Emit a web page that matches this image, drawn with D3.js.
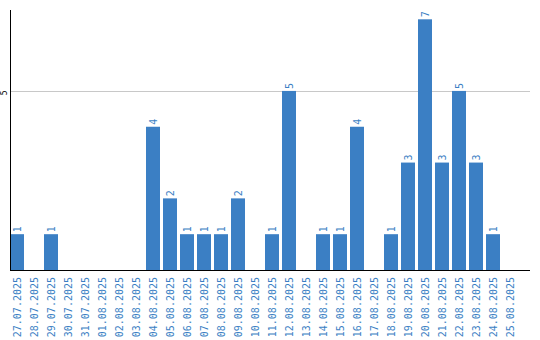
<!DOCTYPE html>
<html lang="en">
<head>
  <meta charset="UTF-8">
  <title>Daily counts</title>
  <script src="https://d3js.org/d3.v7.min.js"></script>
  <style>
    body { margin: 0; background: #fff; }
    text { font-family: "DejaVu Sans Mono", monospace; }
  </style>
</head>
<body>
  <svg id="chart" width="540" height="340"></svg>
  <script>
    const dates = ['27.07.2025', '28.07.2025', '29.07.2025', '30.07.2025', '31.07.2025',
      '01.08.2025', '02.08.2025', '03.08.2025', '04.08.2025', '05.08.2025',
      '06.08.2025', '07.08.2025', '08.08.2025', '09.08.2025', '10.08.2025',
      '11.08.2025', '12.08.2025', '13.08.2025', '14.08.2025', '15.08.2025',
      '16.08.2025', '17.08.2025', '18.08.2025', '19.08.2025', '20.08.2025',
      '21.08.2025', '22.08.2025', '23.08.2025', '24.08.2025', '25.08.2025'];
    const counts = [1, 0, 1, 0, 0, 0, 0, 0, 4, 2,
      1, 1, 1, 2, 0, 1, 5, 0, 1, 1,
      4, 0, 1, 3, 7, 3, 5, 3, 1, 0];
    const yTicks = [5];

    const data = dates.map((date, i) => ({ date, value: counts[i] }));

    const blue = '#3b7fc4';
    const svg = d3.select('#chart');

    const plotLeft = 10, plotRight = 530, plotTop = 10, plotBottom = 270;

    const x = d3.scaleBand()
      .domain(dates)
      .range([plotLeft, 517])
      .paddingInner(3 / 17)
      .paddingOuter(0);

    const y = d3.scaleLinear()
      .domain([0, 7.26])
      .range([plotBottom, plotTop]);

    // grid line
    svg.append('g').selectAll('line').data(yTicks)
      .join('line')
        .attr('x1', plotLeft).attr('x2', plotRight)
        .attr('y1', d => Math.round(y(d)) + 0.5).attr('y2', d => Math.round(y(d)) + 0.5)
        .attr('stroke', '#c8c8c8');

    // y tick labels, rotated
    svg.append('g').selectAll('text').data(yTicks)
      .join('text')
        .attr('transform', d => `translate(7, ${y(d) + 2}) rotate(-90)`)
        .attr('text-anchor', 'middle')
        .attr('font-size', 8)
        .attr('fill', '#000')
        .text(d => d);

    // bars
    svg.append('g').selectAll('rect').data(data)
      .join('rect')
        .attr('x', d => x(d.date))
        .attr('y', d => y(d.value))
        .attr('width', x.bandwidth())
        .attr('height', d => plotBottom - y(d.value))
        .attr('fill', blue);

    // value labels
    svg.append('g').selectAll('text').data(data.filter(d => d.value > 0))
      .join('text')
        .attr('transform', d => `translate(${x(d.date) + x.bandwidth() / 2 + 4}, ${y(d.value) - 2}) rotate(-90)`)
        .attr('font-size', 10)
        .attr('fill', blue)
        .text(d => d.value);

    // x labels
    svg.append('g').selectAll('text').data(dates)
      .join('text')
        .attr('transform', d => `translate(${x(d) + x.bandwidth() / 2 + 4}, ${plotBottom + 7}) rotate(-90)`)
        .attr('text-anchor', 'end')
        .attr('font-size', 10)
        .attr('fill', blue)
        .text(d => d);

    // axes
    svg.append('line')
      .attr('x1', plotLeft + 0.5).attr('x2', plotLeft + 0.5)
      .attr('y1', plotTop).attr('y2', plotBottom)
      .attr('stroke', '#000');
    svg.append('line')
      .attr('x1', plotLeft).attr('x2', plotRight)
      .attr('y1', plotBottom + 0.5).attr('y2', plotBottom + 0.5)
      .attr('stroke', '#000');
  </script>
</body>
</html>
